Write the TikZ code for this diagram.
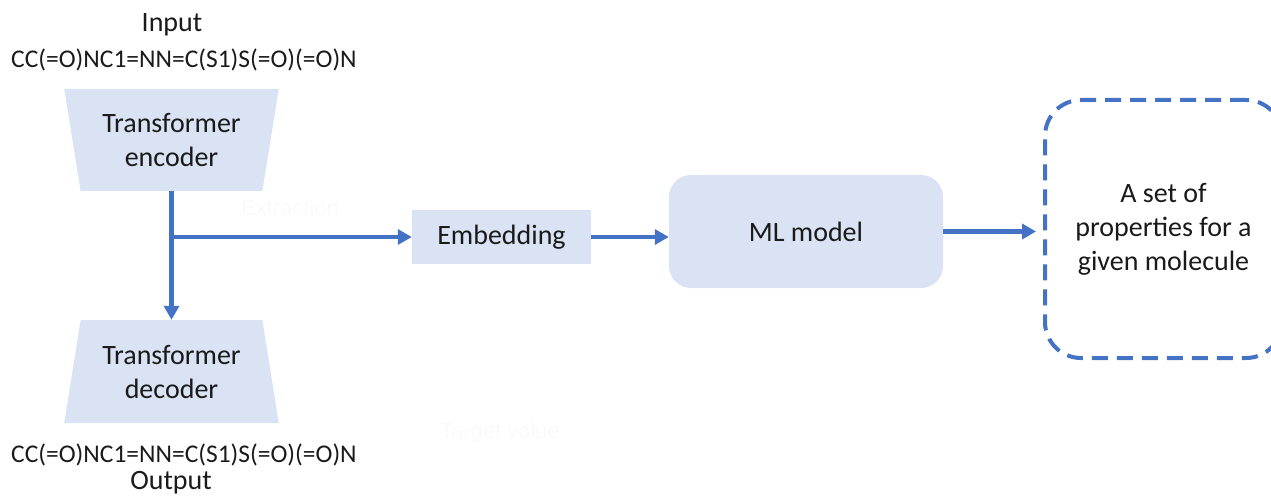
\documentclass[tikz,border=0pt]{standalone}
\usepackage{fontspec}
\setmainfont{Carlito}
\setsansfont{Liberation Sans}
\usetikzlibrary{arrows.meta,shapes.geometric}
\definecolor{fillblue}{HTML}{DAE3F3}
\definecolor{lineblue}{HTML}{4472C4}
\definecolor{ink}{HTML}{1A1A1A}
\definecolor{ghost}{HTML}{FAFAFA}
\newcommand\bigtxt{\fontsize{28}{34}\selectfont}
\newcommand\smitxt{\fontsize{25.5}{30}\selectfont}
\tikzset{
  trapbox/.style={trapezium,trapezium stretches=true,fill=fillblue,draw=none,minimum width=215pt,minimum height=102pt,inner sep=0pt,align=center,font=\bigtxt,text=ink},
  blockbox/.style={rectangle,fill=fillblue,draw=none,inner sep=0pt,align=center,font=\bigtxt,text=ink},
  resultbox/.style={rectangle,rounded corners=36pt,draw=lineblue,line width=4pt,dash pattern=on 16pt off 9pt,align=center,font=\bigtxt,text=ink},
  label/.style={font=\bigtxt,text=ink,inner sep=0pt},
  smiles/.style={font=\smitxt,text=ink,inner sep=0pt},
  ghosttext/.style={font=\sffamily\fontsize{22}{26}\selectfont,text=ghost,inner sep=0pt},
  flow/.style={draw=lineblue,line width=4.5pt,-{Triangle[width=15pt,length=14pt]}},
}

\begin{document}
\begin{tikzpicture}[x=1pt,y=-1pt]
  \useasboundingbox (0,0) rectangle (1271,497);
  % left column: encoder / decoder
  \node[label] (inp) at (172,25) {Input};
  \node[smiles] (insmi) at (184,60) {CC(=O)NC1=NN=C(S1)S(=O)(=O)N};
  \node[trapbox,trapezium left angle=103.2,trapezium right angle=103.2] (enc) at (171.5,140) {Transformer\\encoder};
  \node[trapbox,trapezium left angle=76.8,trapezium right angle=76.8,minimum height=103pt] (dec) at (171.5,371.5) {Transformer\\decoder};
  \node[smiles] (outsmi) at (184,455) {CC(=O)NC1=NN=C(S1)S(=O)(=O)N};
  \node[label] (outp) at (171,483) {Output};
  % right part
  \node[blockbox,minimum width=179pt,minimum height=54pt] (emb) at (501.5,237) {Embedding};
  \node[blockbox,rounded corners=22pt,minimum width=274pt,minimum height=113pt] (ml) at (806,231.5) {ML model};
  \node[resultbox,minimum width=237pt,minimum height=258pt] (props) at (1163.5,229) {A set of\\properties for a\\given molecule};
  % faint captions
  \node[ghosttext] (extr) at (290,208) {Extraction};
  \node[ghosttext] (targ) at (500,433) {Target value};
  % connectors
  \coordinate (split) at (enc.south |- emb.west);
  \draw[flow] (enc.south) -- (dec.north);
  \draw[flow] (split) -- (emb.west);
  \draw[flow] (emb.east) -- (emb.east -| ml.west);
  \draw[flow,shorten >=7pt] (ml.east) -- (ml.east -| props.west);
\end{tikzpicture}
\end{document}
